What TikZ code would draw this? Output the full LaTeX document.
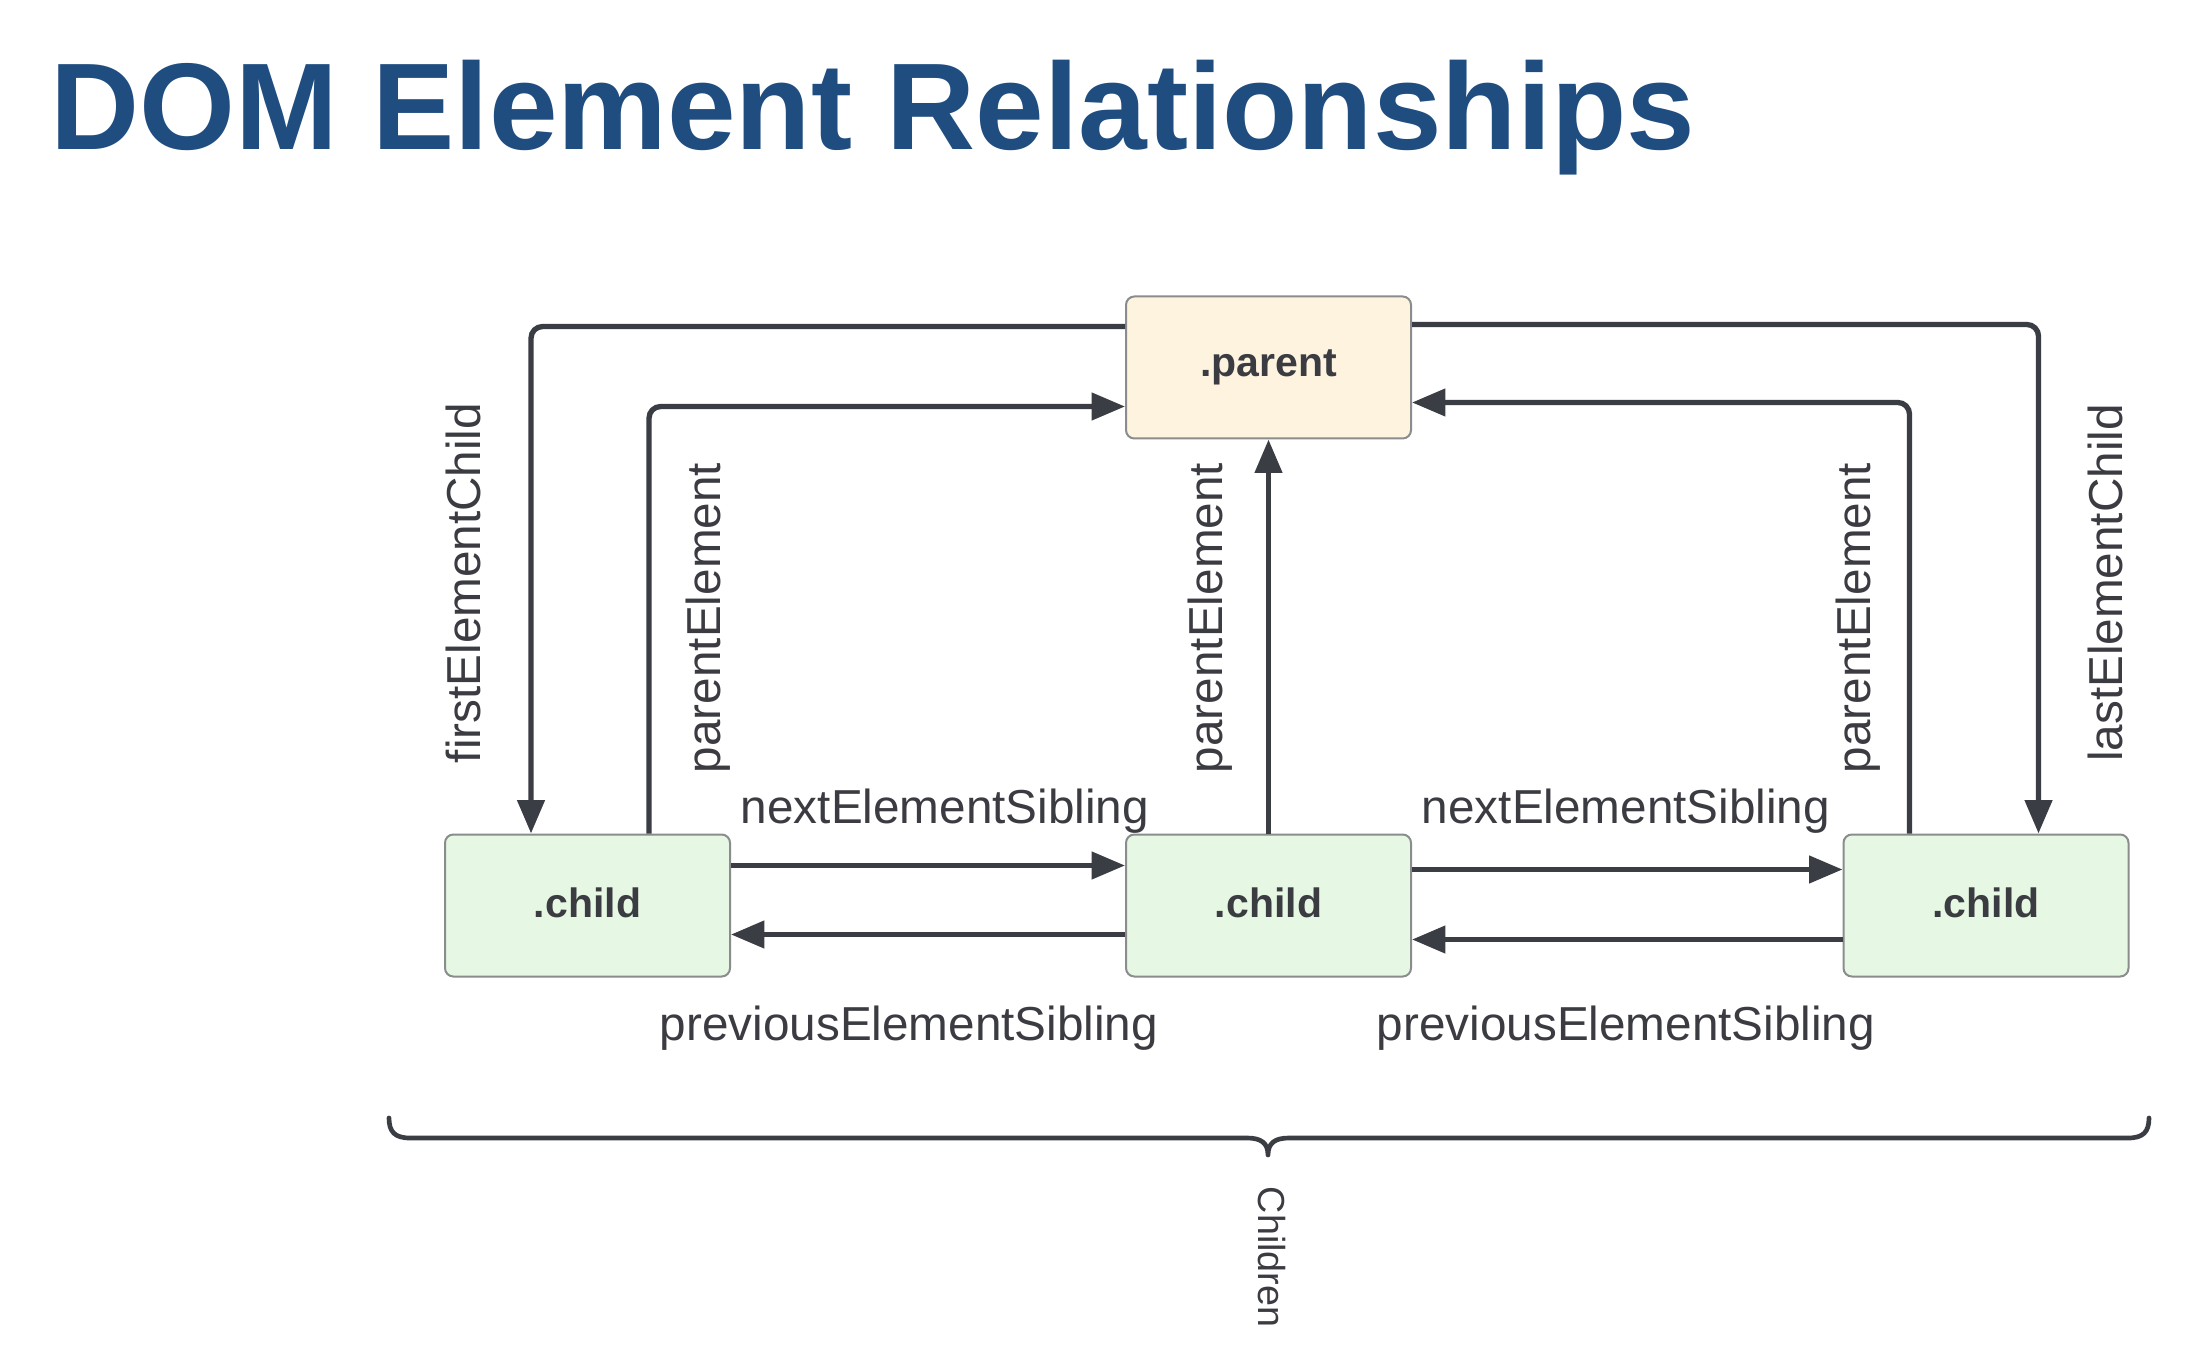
\documentclass[tikz,border=0pt]{standalone}
\usepackage{fontspec}
\setmainfont{Liberation Sans}
\usetikzlibrary{arrows.meta,calc}
\definecolor{titleblue}{HTML}{1F4D80}
\definecolor{linecol}{HTML}{3A3D44}
\definecolor{textcol}{HTML}{3A3C42}
\definecolor{parentfill}{HTML}{FDF3DF}
\definecolor{childfill}{HTML}{E6F8E3}
\definecolor{boxborder}{HTML}{8A8C8E}
\tikzset{
  box/.style={draw=boxborder, line width=0.6pt, rounded corners=2.5pt,
    minimum width=85.5pt, minimum height=42.6pt, inner sep=0pt,
    font=\fontsize{12.3}{14}\selectfont\bfseries, text=textcol},
  parentbox/.style={box, fill=parentfill},
  childbox/.style={box, fill=childfill},
  conn/.style={draw=linecol, line width=1.6pt, rounded corners=3.5pt,
    -{Triangle[length=10pt,width=8pt]}},
  lbl/.style={font=\fontsize{14.3}{16}\selectfont, text=textcol, inner sep=0pt},
  smalllbl/.style={font=\fontsize{11.3}{13}\selectfont, text=textcol, inner sep=0pt}
}
\begin{document}
\begin{tikzpicture}[x=0.3pt,y=-0.3pt]
\useasboundingbox (0,0) rectangle (2192,1348);
\fill[white] (0,0) rectangle (2192,1348);

\node[anchor=base west, inner sep=0pt, text=titleblue,
  font=\fontsize{37}{40}\selectfont\bfseries] (title) at (50,150) {DOM Element Relationships};

\node[parentbox] (parent) at (1268.5,367.5) {.parent};
\node[childbox] (c1) at (587.5,905.5) {\raisebox{2pt}{.child}};
\node[childbox] (c2) at (1268.5,905.5) {\raisebox{2pt}{.child}};
\node[childbox] (c3) at (1986,905.5) {\raisebox{2pt}{.child}};

% firstElementChild
\draw[conn] ($(parent.north west)+(0,31)$) -| ($(c1.north west)+(87,0)$);
% parentElement left
\draw[conn] ($(c1.north west)+(205,0)$) |- ($(parent.north west)+(0,111)$);
% parentElement middle
\draw[conn] (c2.north) -- (parent.south);
% parentElement right
\draw[conn] ($(c3.north west)+(67,0)$) |- ($(parent.north east)+(0,107)$);
% lastElementChild
\draw[conn] ($(parent.north east)+(0,29)$) -| ($(c3.north west)+(196,0)$);
% siblings
\draw[conn] ($(c1.north east)+(0,32)$) -- ($(c2.north west)+(0,32)$);
\draw[conn] ($(c2.north west)+(0,101)$) -- ($(c1.north east)+(0,101)$);
\draw[conn] ($(c2.north east)+(0,36)$) -- ($(c3.north west)+(0,36)$);
\draw[conn] ($(c3.north west)+(0,106)$) -- ($(c2.north east)+(0,106)$);

% labels
\node[lbl, rotate=90, anchor=base] (lfirst) at (480,583) {firstElementChild};
\node[lbl, rotate=90, anchor=base] (lpar1) at (720,618) {parentElement};
\node[lbl, rotate=90, anchor=base] (lpar2) at (1222,618) {parentElement};
\node[lbl, rotate=90, anchor=base] (lpar3) at (1870,618) {parentElement};
\node[lbl, rotate=90, anchor=base] (llast) at (2122,583) {lastElementChild};
\node[lbl, anchor=base] (lnext1) at (945,824) {nextElementSibling};
\node[lbl, anchor=base] (lnext2) at (1626,824) {nextElementSibling};
\node[lbl, anchor=base] (lprev1) at (909,1040) {previousElementSibling};
\node[lbl, anchor=base] (lprev2) at (1626,1040) {previousElementSibling};

% brace
\draw[linecol, line width=1.4pt, line cap=round, line join=round]
  (389,1118) .. controls (389,1132) and (395,1138) .. (410,1138)
  -- (1247,1138) .. controls (1261,1138) and (1268,1143) .. (1268,1155)
  .. controls (1268,1143) and (1275,1138) .. (1289,1138)
  -- (2128,1138) .. controls (2143,1138) and (2149,1132) .. (2149,1118);
\node[smalllbl, rotate=-90, anchor=base] (lchildren) at (1258,1257) {Children};
\end{tikzpicture}
\end{document}
